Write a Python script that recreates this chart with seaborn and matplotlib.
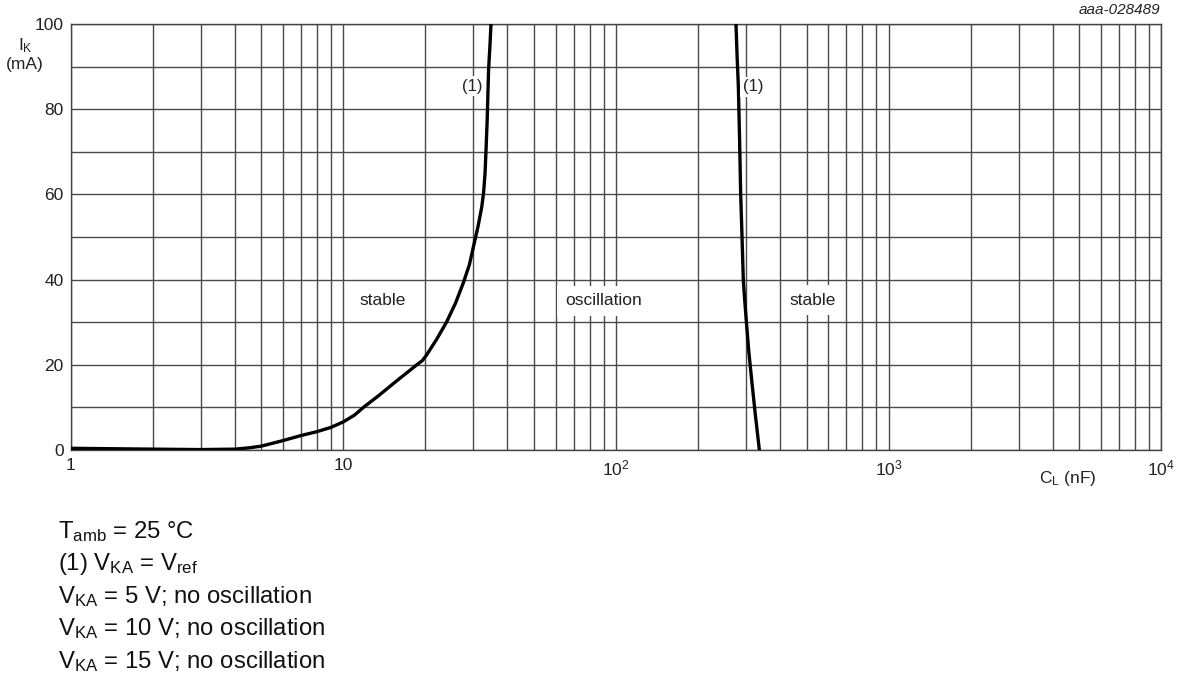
import matplotlib
matplotlib.use("Agg")
import matplotlib.pyplot as plt
import seaborn as sns
import numpy as np
import pandas as pd

# ---- data ----
cap_left = [1.0, 2.0, 3.0, 4.0, 4.5, 5.0, 6.0, 7.0, 8.0, 9.0, 10.0, 11.0, 11.85, 13.5, 15.26, 17.0, 18.6, 19.5, 20.2, 22.0, 23.9, 25.8, 27.5, 29.0, 30.0, 31.2, 32.2, 32.7, 33.1, 33.4, 33.7, 34.1, 34.5, 34.8]
ik_left = [0.4, 0.2, 0.1, 0.2, 0.5, 0.9, 2.2, 3.4, 4.3, 5.3, 6.6, 8.2, 10.0, 12.8, 15.6, 18.0, 20.0, 21.0, 22.3, 26.0, 30.0, 34.5, 39.1, 43.5, 47.7, 52.5, 57.1, 60.5, 65.0, 71.0, 77.5, 89.3, 95.0, 100.0]

cap_right = [275.4, 278.0, 281.0, 284.0, 286.5, 290.0, 293.0, 297.0, 301.0, 307.0, 314.5, 324.0, 335.5]
ik_right = [100.0, 92.5, 85.3, 72.5, 60.3, 49.5, 39.9, 34.5, 29.7, 23.0, 16.4, 8.5, 0.0]

x_ticks = [1, 10, 100, 1000, 10000]
x_tick_labels = ["1", "10", "10$^{2}$", "10$^{3}$", "10$^{4}$"]
y_ticks = [0, 20, 40, 60, 80, 100]
y_tick_labels = ["0", "20", "40", "60", "80", "100"]

region_labels = ["stable", "oscillation", "stable"]
region_x = [14.0, 89.7, 528.0]
region_y = [35.2, 35.0, 35.2]

curve_labels = ["(1)", "(1)"]
curve_label_x = [29.8, 318.0]
curve_label_y = [85.4, 85.3]

footnotes = [
    r"T$_{\mathrm{amb}}$ = 25 °C",
    r"(1) V$_{\mathrm{KA}}$ = V$_{\mathrm{ref}}$",
    r"V$_{\mathrm{KA}}$ = 5 V; no oscillation",
    r"V$_{\mathrm{KA}}$ = 10 V; no oscillation",
    r"V$_{\mathrm{KA}}$ = 15 V; no oscillation",
]

# ---- styling ----
sns.set_theme(style="white")
plt.rcParams["font.family"] = ["Liberation Sans", "DejaVu Sans"]
plt.rcParams["mathtext.fontset"] = "custom"
plt.rcParams["mathtext.rm"] = "Liberation Sans"
plt.rcParams["mathtext.it"] = "Liberation Sans:italic"
plt.rcParams["mathtext.bf"] = "Liberation Sans:bold"

W, H = 1182, 681
fig = plt.figure(figsize=(W / 100, H / 100), dpi=100)
left, right, top, bottom = 70.6, 1161.4, 24.0, 450.0
ax = fig.add_axes([left / W, 1 - bottom / H, (right - left) / W, (bottom - top) / H])

df_l = pd.DataFrame({"C": cap_left, "I": ik_left})
df_r = pd.DataFrame({"C": cap_right, "I": ik_right})
sns.lineplot(data=df_l, x="C", y="I", sort=False, estimator=None, color="black", lw=2.4, ax=ax, zorder=3)
sns.lineplot(data=df_r, x="C", y="I", sort=False, estimator=None, color="black", lw=2.4, ax=ax, zorder=3)

ax.set_xscale("log")
ax.set_xlim(1, 1e4)
ax.set_ylim(0, 100)
ax.set_xticks(x_ticks)
ax.set_xticklabels(x_tick_labels)
ax.xaxis.set_minor_locator(matplotlib.ticker.LogLocator(base=10, subs=np.arange(2, 10)))
ax.xaxis.set_minor_formatter(matplotlib.ticker.NullFormatter())
ax.set_yticks(y_ticks)
ax.set_yticklabels(y_tick_labels)
ax.yaxis.set_minor_locator(matplotlib.ticker.MultipleLocator(10))
ax.tick_params(axis="both", which="both", length=0, labelsize=12.5, colors="#222222")
ax.tick_params(axis="x", pad=6)
ax.tick_params(axis="y", pad=5)

ax.grid(True, which="both", axis="both", color="#4a4a4a", lw=1.0)
ax.set_axisbelow(True)
for s in ax.spines.values():
    s.set_color("#444444")
    s.set_linewidth(1.0)

ax.set_xlabel("")
ax.set_ylabel("")

for t, x, y in zip(region_labels, region_x, region_y):
    ax.text(x, y, t, ha="center", va="center", fontsize=12.5, color="#222222",
            bbox=dict(boxstyle="square,pad=0.45", fc="white", ec="none"), zorder=4)
for t, x, y in zip(curve_labels, curve_label_x, curve_label_y):
    ax.text(x, y, t, ha="center", va="center", fontsize=12, color="#222222",
            bbox=dict(boxstyle="square,pad=0.15", fc="white", ec="none"), zorder=4)

fig.text(25 / W, 1 - 46 / H, r"I$_{\mathrm{K}}$", ha="center", va="center", fontsize=12.5, color="#222222")
fig.text(25 / W, 1 - 64 / H, "(mA)", ha="center", va="center", fontsize=12.5, color="#222222")
fig.text(1068 / W, 1 - 478 / H, r"C$_{\mathrm{L}}$ (nF)", ha="center", va="center", fontsize=12.5, color="#222222")
fig.text(1160 / W, 1 - 10 / H, "aaa-028489", ha="right", va="center", fontsize=11, style="italic", color="#222222")

for i, t in enumerate(footnotes):
    fig.text(58 / W, 1 - (532 + 32.3 * i) / H, t, ha="left", va="center", fontsize=17.2, color="#111111")

fig.savefig("out.png", dpi=100)
